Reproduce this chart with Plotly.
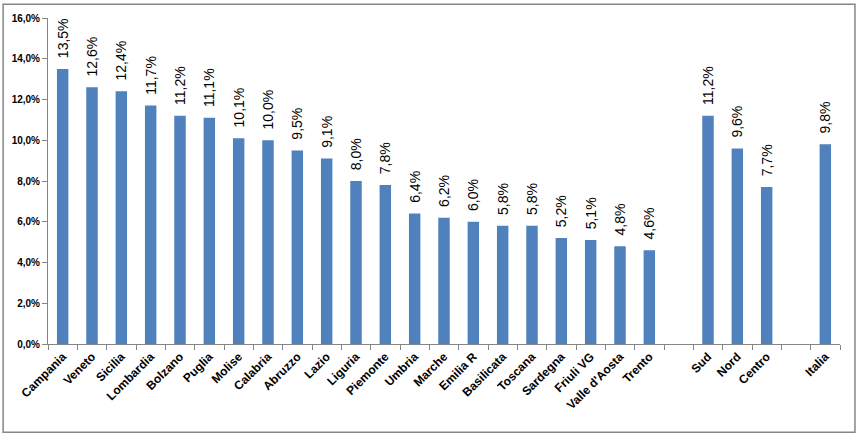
import plotly.graph_objects as go

categories = ["Campania", "Veneto", "Sicilia", "Lombardia", "Bolzano", "Puglia", "Molise",
              "Calabria", "Abruzzo", "Lazio", "Liguria", "Piemonte", "Umbria", "Marche",
              "Emilia R", "Basilicata", "Toscana", "Sardegna", "Friuli VG", "Valle d'Aosta",
              "Trento", " ", "Sud", "Nord", "Centro", "  ", "Italia"]
values = [0.135, 0.126, 0.124, 0.117, 0.112, 0.111, 0.101,
          0.100, 0.095, 0.091, 0.080, 0.078, 0.064, 0.062,
          0.060, 0.058, 0.058, 0.052, 0.051, 0.048,
          0.046, None, 0.112, 0.096, 0.077, None, 0.098]
y_ticks = [0, 0.02, 0.04, 0.06, 0.08, 0.10, 0.12, 0.14, 0.16]

W, H = 857, 435
ml, mr, mt, mb = 46, 17, 15, 91

fig = go.Figure(go.Bar(
    x=categories, y=values,
    marker=dict(color="#4F81BD", line=dict(width=0)),
    width=0.39,
    texttemplate="\u00a0\u00a0%{y:.1%}",
    textposition="outside",
    textangle=-90,
    constraintext="none",
    textfont=dict(family="Liberation Sans, Arial, sans-serif", size=14, color="black"),
    cliponaxis=False,
))

pw = W - ml - mr
ph = H - mt - mb
fig.add_shape(type="rect", xref="paper", yref="paper",
              x0=(-ml + 1) / pw, x1=(pw + mr - 2) / pw,
              y0=(-mb + 2) / ph, y1=(ph + mt - 1) / ph,
              line=dict(color="#868686", width=1.5), layer="below")

fig.update_layout(
    width=W, height=H,
    margin=dict(l=ml, r=mr, t=mt, b=mb),
    paper_bgcolor="white", plot_bgcolor="white",
    separators=",.",
    showlegend=False,
    font=dict(family="Liberation Sans, Arial, sans-serif", color="black"),
)
fig.update_xaxes(
    type="category",
    tickangle=-45,
    tickfont=dict(size=12, family="Liberation Sans, Arial, sans-serif", color="black", weight="bold"),
    showline=True, linecolor="#868686", linewidth=1,
    ticks="outside", ticklen=5, tickcolor="#868686", tickson="boundaries",
    showgrid=False, zeroline=False,
)
fig.update_yaxes(
    range=[0, 0.16],
    tickvals=y_ticks,
    tickformat=".1%",
    tickfont=dict(size=10, family="Liberation Sans, Arial, sans-serif", color="black", weight="bold"),
    showline=True, linecolor="#868686", linewidth=1,
    ticks="outside", ticklen=5, tickcolor="#868686",
    showgrid=False, zeroline=False,
)

fig.write_html("out.html")
